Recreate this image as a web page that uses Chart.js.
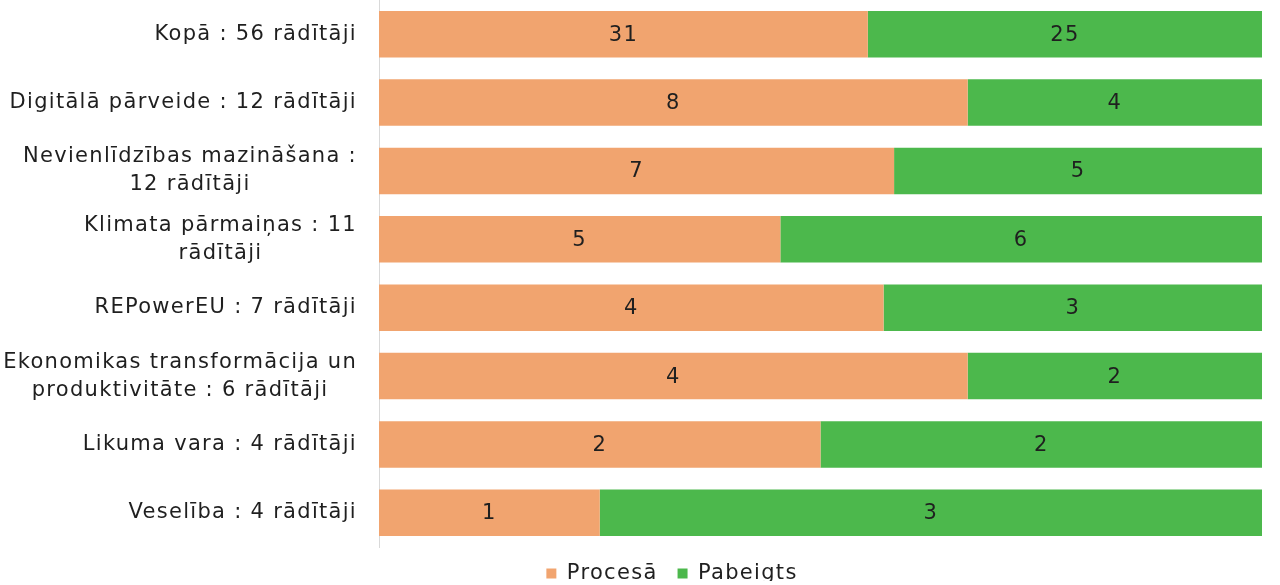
<!DOCTYPE html>
<html>
<head>
<meta charset="utf-8">
<script src="https://cdn.jsdelivr.net/npm/chart.js@4"></script>
<style>
  html, body { margin: 0; padding: 0; background: #fff; }
  #wrap { width: 1280px; height: 585px; }
</style>
</head>
<body>
<div id="wrap"><canvas id="chart"></canvas></div>
<script>
// kategorijas (rindas pēc kārtas no augšas)
const categories = [
  ['Kopā : 56 rādītāji'],
  ['Digitālā pārveide : 12 rādītāji'],
  ['Nevienlīdzības mazināšana :', '12 rādītāji'],
  ['Klimata pārmaiņas : 11', 'rādītāji'],
  ['REPowerEU : 7 rādītāji'],
  ['Ekonomikas transformācija un', 'produktivitāte : 6 rādītāji'],
  ['Likuma vara : 4 rādītāji'],
  ['Veselība : 4 rādītāji']
];
const seriesNames = ['Procesā', 'Pabeigts'];
const procesa = [31, 8, 7, 5, 4, 4, 2, 1];
const pabeigts = [25, 4, 5, 6, 3, 2, 2, 3];

const FONT = "'DejaVu Sans', sans-serif";
const SIZE = 21;
const SPACING = '1.3px';
const TEXT = '#1f1f1f';
const totals = procesa.map((v, i) => v + pabeigts[i]);
const share = arr => arr.map((v, i) => v / totals[i] * 100);

// plats burtu atstatums visam tekstam (kā oriģinālajā attēlā)
const spacing = {
  id: 'spacing',
  beforeLayout(chart) { chart.ctx.letterSpacing = SPACING; },
  beforeDraw(chart) { chart.ctx.letterSpacing = SPACING; }
};

// skaitļi joslu vidū
const valueLabels = {
  id: 'valueLabels',
  afterDatasetsDraw(chart) {
    const ctx = chart.ctx;
    ctx.save();
    ctx.letterSpacing = SPACING;
    ctx.font = SIZE + 'px ' + FONT;
    ctx.fillStyle = TEXT;
    ctx.textAlign = 'center';
    ctx.textBaseline = 'middle';
    chart.data.datasets.forEach((ds, di) => {
      chart.getDatasetMeta(di).data.forEach((bar, i) => {
        const cx = (bar.x + bar.base) / 2;
        ctx.fillText(String(ds.counts[i]), cx, bar.y + 1);
      });
    });
    ctx.restore();
  }
};

// kategoriju nosaukumi: bloks pie labās malas, rindas centrētas
const catLabels = {
  id: 'catLabels',
  afterDraw(chart) {
    const ctx = chart.ctx;
    const y = chart.scales.y;
    const right = y.right - 22;
    const lh = 28;
    ctx.save();
    ctx.letterSpacing = SPACING;
    ctx.font = SIZE + 'px ' + FONT;
    ctx.fillStyle = TEXT;
    ctx.textAlign = 'center';
    ctx.textBaseline = 'middle';
    categories.forEach((lines, i) => {
      const py = y.getPixelForTick(i);
      const w = Math.max(...lines.map(l => ctx.measureText(l).width));
      const cx = right - w / 2;
      const top = py - (lines.length - 1) * lh / 2;
      lines.forEach((l, k) => ctx.fillText(l, cx, top + k * lh));
    });
    ctx.restore();
  }
};

// leģenda nedaudz pa labi un augstāk, kā oriģinālā
const legendShift = {
  id: 'legendShift',
  afterLayout(chart) {
    const lg = chart.legend;
    lg.left += 41;
    lg.right += 41;
    lg.top -= 4;
    lg.bottom -= 4;
  }
};

new Chart(document.getElementById('chart'), {
  type: 'bar',
  data: {
    labels: categories,
    datasets: [
      {
        label: seriesNames[0],
        data: share(procesa),
        counts: procesa,
        backgroundColor: '#f1a46f'
      },
      {
        label: seriesNames[1],
        data: share(pabeigts),
        counts: pabeigts,
        backgroundColor: '#4cb84c'
      }
    ]
  },
  options: {
    indexAxis: 'y',
    responsive: true,
    maintainAspectRatio: false,
    animation: false,
    layout: { padding: { top: 0, right: 18, bottom: 0, left: 0 } },
    datasets: { bar: { categoryPercentage: 1, barPercentage: 0.68 } },
    scales: {
      x: {
        stacked: true,
        min: 0,
        max: 100,
        display: false
      },
      y: {
        stacked: true,
        grid: { display: false, drawTicks: false },
        border: { color: '#d9d9d9', width: 1 },
        ticks: { display: false },
        afterFit(scale) { scale.width = 379; }
      }
    },
    plugins: {
      legend: {
        position: 'bottom',
        maxHeight: 38,
        labels: {
          font: { family: FONT, size: SIZE },
          color: TEXT,
          boxWidth: 10,
          boxHeight: 10,
          padding: 20
        }
      },
      tooltip: { enabled: false }
    }
  },
  plugins: [spacing, valueLabels, catLabels, legendShift]
});
</script>
</body>
</html>
